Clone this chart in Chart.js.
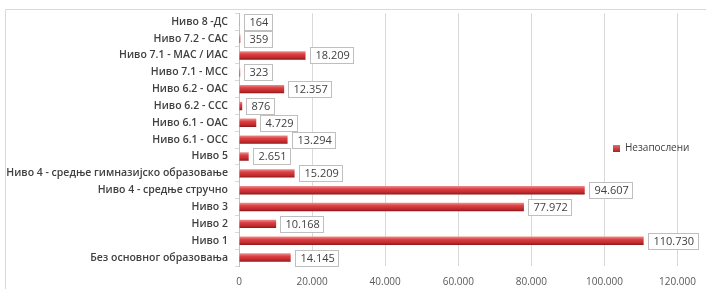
<!DOCTYPE html>
<html>
<head>
<meta charset="utf-8">
<script src="https://cdn.jsdelivr.net/npm/chart.js@4.4.0/dist/chart.umd.min.js"></script>
<style>
  html, body { margin: 0; padding: 0; background: #fff; }
  #wrap { width: 706px; height: 289px; position: relative; }
</style>
</head>
<body>
<div id="wrap"><canvas id="chart"></canvas></div>
<script>
var categories = [
  "Ниво 8 -ДС",
  "Ниво 7.2 - САС",
  "Ниво 7.1 - МАС / ИАС",
  "Ниво 7.1 - МСС",
  "Ниво 6.2 - ОАС",
  "Ниво 6.2 - ССС",
  "Ниво 6.1 - ОАС",
  "Ниво 6.1 - ОСС",
  "Ниво 5",
  "Ниво 4 - средње гимназијско образовање",
  "Ниво 4 - средње стручно",
  "Ниво 3",
  "Ниво 2",
  "Ниво 1",
  "Без основног образовања"
];
var unemployed = [164, 359, 18209, 323, 12357, 876, 4729, 13294, 2651, 15209, 94607, 77972, 10168, 110730, 14145];
var seriesName = "Незапослени";
var xTicks = [0, 20000, 40000, 60000, 80000, 100000, 120000];

function fmt(n) {
  return String(n).replace(/\B(?=(\d{3})+(?!\d))/g, ".");
}

var FONT = "'Open Sans', sans-serif";

// frame round the chart (only top and left edges are visible)
var framePlugin = {
  id: 'frame',
  beforeDraw: function(chart) {
    var c = chart.ctx;
    c.save();
    c.strokeStyle = "#d9d9d9";
    c.lineWidth = 1;
    c.beginPath();
    c.moveTo(5.5, 300);
    c.lineTo(5.5, 9.5);
    c.lineTo(720, 9.5);
    c.stroke();
    c.restore();
  }
};

// shaded bars, one gradient per bar
var shadePlugin = {
  id: 'shade',
  beforeDatasetsDraw: function(chart) {
    var c = chart.ctx;
    chart.getDatasetMeta(0).data.forEach(function(bar) {
      var top = bar.y - bar.height / 2;
      var bot = bar.y + bar.height / 2;
      var g = c.createLinearGradient(0, top, 0, bot);
      g.addColorStop(0, "#ee9090");
      g.addColorStop(0.35, "#dc4043");
      g.addColorStop(0.75, "#c02a2d");
      g.addColorStop(1, "#8a181a");
      bar.options.backgroundColor = g;
    });
  }
};

// boxed value labels
var labelPlugin = {
  id: 'valueBoxes',
  afterDatasetsDraw: function(chart) {
    var c = chart.ctx;
    c.save();
    c.font = "11px " + FONT;
    c.textBaseline = "middle";
    c.textAlign = "left";
    chart.getDatasetMeta(0).data.forEach(function(bar, i) {
      var txt = fmt(unemployed[i]);
      var w = Math.round(c.measureText(txt).width + 9);
      var x = Math.round(bar.x + 4) + 0.5;
      var y = Math.round(bar.y - 8) + 0.5;
      c.fillStyle = "#ffffff";
      c.fillRect(x, y, w, 16);
      c.strokeStyle = "#bfbfbf";
      c.lineWidth = 1;
      c.strokeRect(x, y, w, 16);
      c.fillStyle = "#404040";
      c.fillText(txt, x + 5, y + 8.5);
    });
    c.restore();
  }
};

// legend sitting on top of the plot
var legendPlugin = {
  id: 'legendBox',
  afterDraw: function(chart) {
    var c = chart.ctx;
    c.save();
    var g = c.createLinearGradient(0, 145, 0, 152);
    g.addColorStop(0, "#e46a6a");
    g.addColorStop(1, "#a82224");
    c.fillStyle = g;
    c.fillRect(613, 145, 7, 7);
    c.font = "10px " + FONT;
    c.textBaseline = "middle";
    c.fillStyle = "#404040";
    c.fillText(chart.data.datasets[0].label, 625, 148.5);
    c.restore();
  }
};

var ctx = document.getElementById("chart").getContext('2d');
var myChart = new Chart(ctx, {
  type: 'bar',
  data: {
    labels: categories,
    datasets: [{
      label: seriesName,
      data: unemployed,
      // scriptable so every bar gets its own options object
      backgroundColor: function() { return "#d23a3d"; },
      borderWidth: 0,
      barPercentage: 0.5,
      categoryPercentage: 1
    }]
  },
  plugins: [framePlugin, shadePlugin, labelPlugin, legendPlugin],
  options: {
    indexAxis: 'y',
    responsive: true,
    maintainAspectRatio: false,
    animation: false,
    layout: { padding: { top: 9, right: 28, bottom: 0, left: 0 } },
    plugins: {
      legend: { display: false },
      tooltip: { enabled: false }
    },
    scales: {
      x: {
        min: 0,
        max: 120000,
        afterBuildTicks: function(scale) {
          scale.ticks = xTicks.map(function(v) { return { value: v }; });
        },
        afterFit: function(scale) { scale.height = 23; },
        grid: { color: "#d9d9d9", drawTicks: false },
        border: { display: false },
        ticks: {
          padding: 10,
          color: "#595959",
          font: { family: FONT, size: 10 },
          callback: function(v) { return fmt(v); }
        }
      },
      y: {
        afterFit: function(scale) { scale.width = 239; },
        grid: { drawOnChartArea: false, drawTicks: true, tickLength: 4, offset: true, color: "#d9d9d9" },
        border: { display: true, color: "#bfbfbf" },
        ticks: {
          padding: 7,
          color: "#404040",
          autoSkip: false,
          font: { family: FONT, size: 10.5, weight: '600' }
        }
      }
    }
  }
});
</script>
</body>
</html>
